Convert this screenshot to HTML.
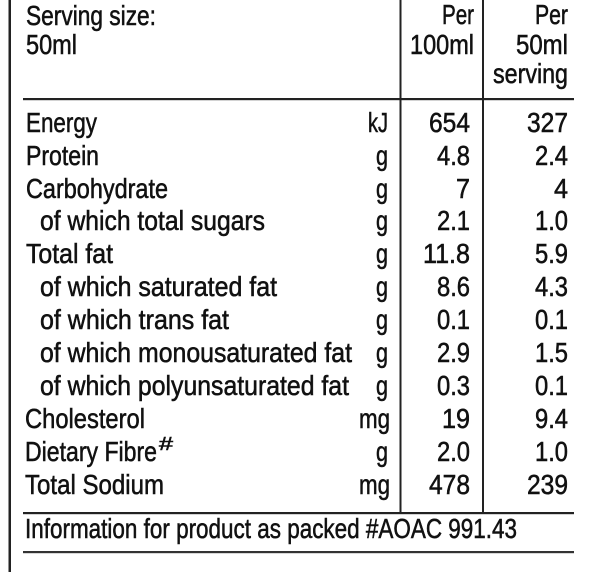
<!DOCTYPE html>
<html>
<head>
<meta charset="utf-8">
<style>
  html,body{margin:0;padding:0;background:#fff;}
  body{width:600px;height:572px;overflow:hidden;}
  svg{display:block;}
  text{font-family:"Liberation Sans",Arial,sans-serif;font-size:28px;fill:#111;stroke:#111;stroke-width:0.55px;}
  .r{text-anchor:end;}
</style>
</head>
<body>
<svg width="600" height="572" viewBox="0 0 600 572" xmlns="http://www.w3.org/2000/svg">
  <!-- lines -->
  <rect x="8.5" y="0" width="2.5" height="572" fill="#222"/>
  <rect x="23" y="98" width="551" height="2.2" fill="#222"/>
  <rect x="23" y="512" width="551" height="2.2" fill="#222"/>
  <rect x="23" y="551" width="551" height="2.2" fill="#333"/>
  <rect x="399.5" y="0" width="2" height="513" fill="#222"/>
  <rect x="482" y="0" width="2" height="513" fill="#222"/>

  <!-- header -->
  <text x="26" y="25" textLength="130" lengthAdjust="spacingAndGlyphs">Serving size:</text>
  <text x="26" y="54" textLength="51" lengthAdjust="spacingAndGlyphs">50ml</text>
  <text x="474" y="24" class="r" textLength="32" lengthAdjust="spacingAndGlyphs">Per</text>
  <text x="474" y="54" class="r" textLength="64" lengthAdjust="spacingAndGlyphs">100ml</text>
  <text x="568" y="24" class="r" textLength="33" lengthAdjust="spacingAndGlyphs">Per</text>
  <text x="568" y="54" class="r" textLength="52" lengthAdjust="spacingAndGlyphs">50ml</text>
  <text x="568" y="83" class="r" textLength="75" lengthAdjust="spacingAndGlyphs">serving</text>

  <!-- labels -->
  <text x="26" y="132" textLength="71" lengthAdjust="spacingAndGlyphs">Energy</text>
  <text x="26" y="165" textLength="73" lengthAdjust="spacingAndGlyphs">Protein</text>
  <text x="26" y="198" textLength="142" lengthAdjust="spacingAndGlyphs">Carbohydrate</text>
  <text x="40" y="230" textLength="225" lengthAdjust="spacingAndGlyphs">of which total sugars</text>
  <text x="26" y="263" textLength="87" lengthAdjust="spacingAndGlyphs">Total fat</text>
  <text x="40" y="296" textLength="237" lengthAdjust="spacingAndGlyphs">of which saturated fat</text>
  <text x="40" y="329" textLength="189" lengthAdjust="spacingAndGlyphs">of which trans fat</text>
  <text x="40" y="362" textLength="312" lengthAdjust="spacingAndGlyphs">of which monousaturated fat</text>
  <text x="40" y="395" textLength="309" lengthAdjust="spacingAndGlyphs">of which polyunsaturated fat</text>
  <text x="25" y="428" textLength="120" lengthAdjust="spacingAndGlyphs">Cholesterol</text>
  <text x="25" y="461" textLength="132" lengthAdjust="spacingAndGlyphs">Dietary Fibre</text>
  <text x="159" y="450" style="font-size:18px" textLength="14" lengthAdjust="spacingAndGlyphs">#</text>
  <text x="25" y="494" textLength="139" lengthAdjust="spacingAndGlyphs">Total Sodium</text>

  <!-- units -->
  <text x="388" y="132" class="r" textLength="20" lengthAdjust="spacingAndGlyphs">kJ</text>
  <text x="388" y="165" class="r" textLength="12" lengthAdjust="spacingAndGlyphs">g</text>
  <text x="388" y="198" class="r" textLength="12" lengthAdjust="spacingAndGlyphs">g</text>
  <text x="388" y="230" class="r" textLength="12" lengthAdjust="spacingAndGlyphs">g</text>
  <text x="388" y="263" class="r" textLength="12" lengthAdjust="spacingAndGlyphs">g</text>
  <text x="388" y="296" class="r" textLength="12" lengthAdjust="spacingAndGlyphs">g</text>
  <text x="388" y="329" class="r" textLength="12" lengthAdjust="spacingAndGlyphs">g</text>
  <text x="388" y="362" class="r" textLength="12" lengthAdjust="spacingAndGlyphs">g</text>
  <text x="388" y="395" class="r" textLength="12" lengthAdjust="spacingAndGlyphs">g</text>
  <text x="390" y="428" class="r" textLength="31" lengthAdjust="spacingAndGlyphs">mg</text>
  <text x="388" y="461" class="r" textLength="12" lengthAdjust="spacingAndGlyphs">g</text>
  <text x="390" y="494" class="r" textLength="31" lengthAdjust="spacingAndGlyphs">mg</text>

  <!-- per 100ml -->
  <text x="470" y="132" class="r" textLength="41" lengthAdjust="spacingAndGlyphs">654</text>
  <text x="470" y="165" class="r" textLength="33" lengthAdjust="spacingAndGlyphs">4.8</text>
  <text x="470" y="198" class="r" textLength="14" lengthAdjust="spacingAndGlyphs">7</text>
  <text x="470" y="230" class="r" textLength="33" lengthAdjust="spacingAndGlyphs">2.1</text>
  <text x="470" y="263" class="r" textLength="47" lengthAdjust="spacingAndGlyphs">11.8</text>
  <text x="470" y="296" class="r" textLength="33" lengthAdjust="spacingAndGlyphs">8.6</text>
  <text x="470" y="329" class="r" textLength="33" lengthAdjust="spacingAndGlyphs">0.1</text>
  <text x="470" y="362" class="r" textLength="33" lengthAdjust="spacingAndGlyphs">2.9</text>
  <text x="470" y="395" class="r" textLength="33" lengthAdjust="spacingAndGlyphs">0.3</text>
  <text x="470" y="428" class="r" textLength="28" lengthAdjust="spacingAndGlyphs">19</text>
  <text x="470" y="461" class="r" textLength="33" lengthAdjust="spacingAndGlyphs">2.0</text>
  <text x="470" y="494" class="r" textLength="41" lengthAdjust="spacingAndGlyphs">478</text>

  <!-- per 50ml -->
  <text x="568" y="132" class="r" textLength="41" lengthAdjust="spacingAndGlyphs">327</text>
  <text x="568" y="165" class="r" textLength="33" lengthAdjust="spacingAndGlyphs">2.4</text>
  <text x="568" y="198" class="r" textLength="14" lengthAdjust="spacingAndGlyphs">4</text>
  <text x="568" y="230" class="r" textLength="33" lengthAdjust="spacingAndGlyphs">1.0</text>
  <text x="568" y="263" class="r" textLength="33" lengthAdjust="spacingAndGlyphs">5.9</text>
  <text x="568" y="296" class="r" textLength="33" lengthAdjust="spacingAndGlyphs">4.3</text>
  <text x="568" y="329" class="r" textLength="33" lengthAdjust="spacingAndGlyphs">0.1</text>
  <text x="568" y="362" class="r" textLength="33" lengthAdjust="spacingAndGlyphs">1.5</text>
  <text x="568" y="395" class="r" textLength="33" lengthAdjust="spacingAndGlyphs">0.1</text>
  <text x="568" y="428" class="r" textLength="33" lengthAdjust="spacingAndGlyphs">9.4</text>
  <text x="568" y="461" class="r" textLength="33" lengthAdjust="spacingAndGlyphs">1.0</text>
  <text x="568" y="494" class="r" textLength="41" lengthAdjust="spacingAndGlyphs">239</text>

  <!-- footer -->
  <text x="25" y="538" textLength="492" lengthAdjust="spacingAndGlyphs">Information for product as packed #AOAC 991.43</text>
</svg>
</body>
</html>
